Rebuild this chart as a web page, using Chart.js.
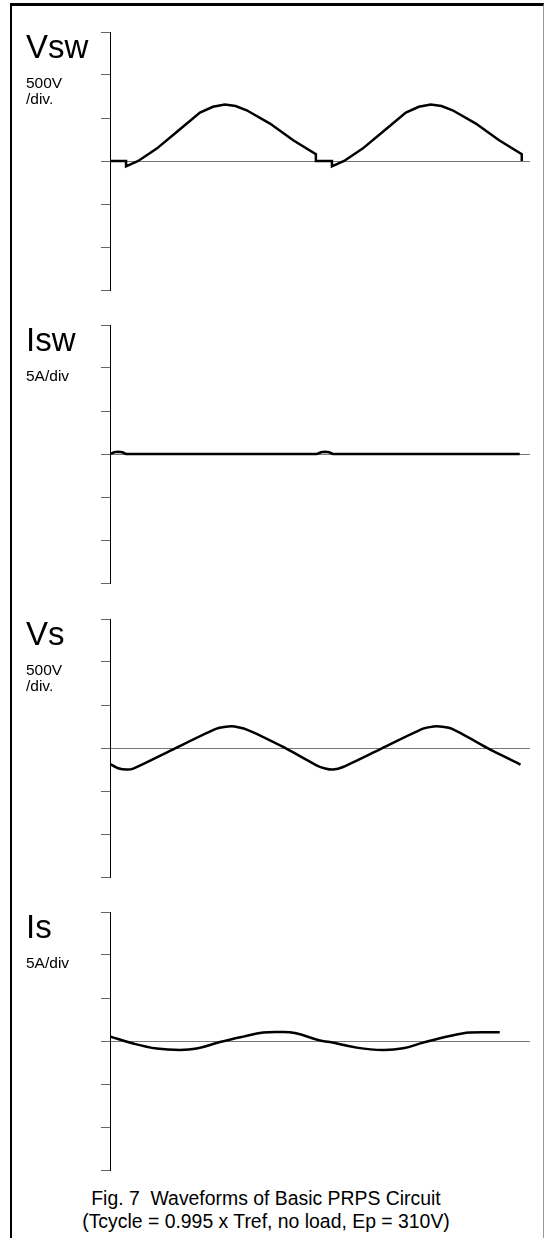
<!DOCTYPE html>
<html>
<head>
<meta charset="utf-8">
<script src="https://cdn.jsdelivr.net/npm/chart.js@4.4.0/dist/chart.umd.min.js"></script>
<style>
  body { margin: 0; background: #fff; font-family: "Liberation Sans", Arial, sans-serif; }
  #page { position: relative; width: 545px; height: 1238px; overflow: hidden; }
  #frame {
    position: absolute; left: 10px; top: 3px; width: 534px; height: 1300px;
    box-sizing: border-box; border-top: 3px solid #000; border-left: 2px solid #000; border-right: 1px solid #999;
  }
  canvas { position: absolute; left: 0; }
  .title { position: absolute; left: 26px; font-size: 33px; line-height: 33px; color: #000; }
  .unit { position: absolute; left: 26px; font-size: 15.5px; line-height: 16px; color: #000; }
  #caption {
    position: absolute; left: 0; width: 532px; top: 1187px; text-align: center;
    font-size: 19.4px; line-height: 23px; white-space: pre; color: #000;
  }
</style>
</head>
<body>
<div id="page">
  <div id="frame"></div>

  <canvas id="vswChart" width="545" height="270"></canvas>
  <canvas id="iswChart" width="545" height="270"></canvas>
  <canvas id="vsChart" width="545" height="270"></canvas>
  <canvas id="isChart" width="545" height="270"></canvas>

  <div class="title" id="t0">Vsw</div>
  <div class="unit" id="u0">500V<br>/div.</div>
  <div class="title" id="t1">Isw</div>
  <div class="unit" id="u1">5A/div</div>
  <div class="title" id="t2">Vs</div>
  <div class="unit" id="u2">500V<br>/div.</div>
  <div class="title" id="t3">Is</div>
  <div class="unit" id="u3">5A/div</div>

  <div id="caption">Fig. 7  Waveforms of Basic PRPS Circuit
(Tcycle = 0.995 x Tref, no load, Ep = 310V)</div>
</div>

<script>
// time axis: one switching cycle = 100 units
const timeMax = 204;

// switch voltage (V)
const vswTime  = [0, 7.8, 7.8, 13.7, 22.7, 32.4, 43.7, 50, 55.8, 61, 66.4, 77.7, 89, 100, 100,
                  107.8, 107.8, 113.7, 122.7, 132.4, 143.7, 150, 155.8, 161, 166.4, 177.7, 189, 200, 200];
const vswVolts = [0, 0, -62, 0, 144, 337, 563, 630, 656, 640, 590, 435, 241, 78, 0,
                  0, -62, 0, 144, 337, 563, 630, 656, 640, 590, 435, 241, 78, 0];

// switch current (A)
const iswTime = [0, 2, 3.9, 6, 7.8, 100.5, 102.5, 104.4, 106.4, 108.3, 199];
const iswAmps = [0, 0.2, 0.27, 0.2, 0, 0, 0.2, 0.27, 0.2, 0, 0];

// secondary voltage (V)
const vsTime  = [0.3, 4, 8.1, 11.3, 30.7, 51.8, 59.1, 66.4, 84.1, 100.3, 104.5, 108.4, 113.2, 131.1, 152.1, 158.6, 165.9, 184.5, 199.4];
const vsVolts = [-190, -235, -251, -240, -15, 225, 252, 214, 12, -201, -238, -251, -221, -15, 225, 252, 225, -15, -193];

// secondary current (A)
const isTime = [0.3, 11.3, 22.7, 34, 42.1, 53.4, 64.7, 74.4, 82.5, 89.8, 102, 106.8, 119.8, 132.6, 142.4, 152.1, 165, 174.8, 189.3];
const isAmps = [0.51, -0.3, -0.88, -1.05, -0.88, -0.12, 0.51, 0.98, 1.05, 0.93, 0.05, -0.12, -0.77, -1.05, -0.85, -0.19, 0.58, 0.98, 1.01];

const voltsPerDiv = 500;
const ampsPerDiv = 5;
const panelTops = [32, 325, 619, 912];

function makePanel(id, times, values, perDiv, top, tension) {
    const canvas = document.getElementById(id);
    canvas.style.top = (top - 6) + 'px';
    const points = times.map((t, i) => ({ x: t, y: values[i] }));
    new Chart(canvas.getContext('2d'), {
        type: 'line',
        data: {
            datasets: [{
                data: points,
                borderColor: '#000',
                borderWidth: 2.5,
                pointRadius: 0,
                tension: tension,
                fill: false
            }]
        },
        options: {
            responsive: false,
            animation: false,
            events: [],
            layout: { padding: { left: 101, right: 15, top: 6, bottom: 6 } },
            plugins: { legend: { display: false }, tooltip: { enabled: false } },
            scales: {
                x: { type: 'linear', min: 0, max: timeMax, display: false },
                y: {
                    min: -3 * perDiv,
                    max: 3 * perDiv,
                    ticks: { display: false, stepSize: perDiv },
                    grid: {
                        color: (c) => c.tick && c.tick.value === 0 ? '#777' : 'rgba(0,0,0,0)',
                        tickColor: '#666',
                        tickLength: 9,
                        lineWidth: 1
                    },
                    border: { display: true, color: '#000', width: 1 }
                }
            }
        }
    });
}

makePanel('vswChart', vswTime, vswVolts, voltsPerDiv, panelTops[0], 0);
makePanel('iswChart', iswTime, iswAmps, ampsPerDiv, panelTops[1], 0);
makePanel('vsChart', vsTime, vsVolts, voltsPerDiv, panelTops[2], 0.2);
makePanel('isChart', isTime, isAmps, ampsPerDiv, panelTops[3], 0.4);

// place panel labels relative to each panel's top tick
panelTops.forEach((top, i) => {
    document.getElementById('t' + i).style.top = (top + 25.5 - 28) + 'px';
    document.getElementById('u' + i).style.top = (top + 56 - 13.5) + 'px';
});
</script>
</body>
</html>
